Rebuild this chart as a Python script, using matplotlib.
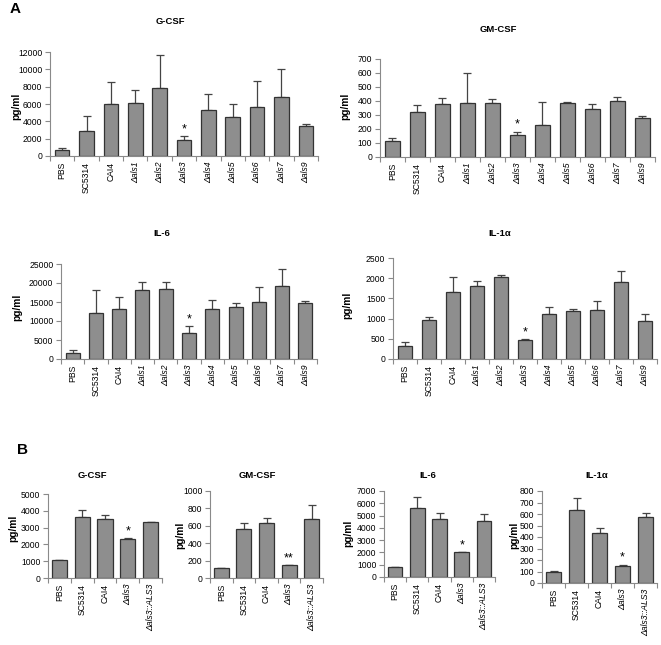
import numpy as np
import matplotlib
matplotlib.use('Agg')
import matplotlib.pyplot as plt

plt.rcParams['font.family'] = ['Liberation Sans', 'DejaVu Sans']

W, H = 661, 645

strains_a = ['PBS', 'SC5314', 'CAI4', 'Δals1', 'Δals2', 'Δals3',
             'Δals4', 'Δals5', 'Δals6', 'Δals7', 'Δals9']
strains_b = ['PBS', 'SC5314', 'CAI4', 'Δals3', 'Δals3::ALS3']

# panel A: means and upper error (top of error bar)
a_gcsf = [650, 2900, 5950, 6100, 7900, 1850, 5300, 4450, 5700, 6750, 3500]
a_gcsf_err = [950, 4600, 8550, 7650, 11600, 2300, 7200, 5950, 8650, 10050, 3650]
a_gmcsf = [115, 320, 377, 389, 389, 158, 230, 389, 340, 400, 276]
a_gmcsf_err = [138, 373, 425, 603, 413, 182, 396, 395, 377, 432, 296]
a_il6 = [1500, 12000, 13250, 18100, 18400, 6750, 13250, 13700, 15000, 19300, 14700]
a_il6_err = [2450, 18200, 16300, 20200, 20200, 8750, 15450, 14650, 18900, 23800, 15200]
a_il1 = [310, 975, 1650, 1800, 2020, 480, 1120, 1195, 1220, 1900, 950]
a_il1_err = [410, 1045, 2020, 1935, 2070, 500, 1295, 1235, 1445, 2170, 1125]

# panel B
b_gcsf = [1075, 3625, 3500, 2300, 3310]
b_gcsf_err = [1075, 4020, 3770, 2380, 3350]
b_gmcsf = [118, 560, 628, 148, 675]
b_gmcsf_err = [118, 628, 685, 152, 835]
b_il6 = [800, 5600, 4730, 2000, 4530]
b_il6_err = [800, 6520, 5200, 2000, 5150]
b_il1 = [98, 632, 432, 148, 572]
b_il1_err = [103, 738, 480, 160, 607]

BAR = '#8e8e8e'
SPINE = '#8a8a8a'


def px_axes(fig, x0, x1, y0, y1):
    return fig.add_axes([x0 / W, 1 - y1 / H, (x1 - x0) / W, (y1 - y0) / H])


def ftext(fig, x, y, s, **kw):
    fig.text(x / W, 1 - y / H, s, **kw)


def panel(fig, box, labels, vals, tops, ymax, ystep, title, tpos, ypos,
          stars=None, width=0.6):
    ax = px_axes(fig, *box)
    n = len(labels)
    x = np.arange(n)
    vals = np.array(vals, float)
    tops = np.array(tops, float)
    ax.bar(x, vals, width=width, color=BAR, edgecolor='#333333', linewidth=0.9, zorder=2)
    up = np.clip(tops - vals, 0, None)
    ax.errorbar(x, vals, yerr=[np.zeros(n), up], fmt='none', ecolor='#444444',
                elinewidth=0.9, capsize=3, capthick=0.9, zorder=1)
    ax.set_xlim(-0.5, n - 0.5)
    ax.set_ylim(0, ymax)
    ax.set_yticks(np.arange(0, ymax + 1, ystep))
    ax.set_xticks(np.arange(n + 1) - 0.5)
    ax.set_xticklabels([])
    ax.set_xticks(x, minor=True)
    ax.set_xticklabels(labels, minor=True, rotation=90, fontsize=6.2)
    for t, lab in zip(ax.get_xticklabels(minor=True), labels):
        if lab.startswith('Δ'):
            t.set_fontstyle('italic')
    ax.tick_params(axis='x', which='minor', length=0, pad=4)
    ax.tick_params(axis='x', which='major', length=3.5, color=SPINE, width=0.8)
    ax.tick_params(axis='y', length=3.5, color=SPINE, width=0.8, labelsize=6.2, pad=2)
    for s in ['top', 'right']:
        ax.spines[s].set_visible(False)
    for s in ['left', 'bottom']:
        ax.spines[s].set_color(SPINE)
        ax.spines[s].set_linewidth(0.8)
    ftext(fig, tpos[0], tpos[1], title, ha='center', va='center',
          fontsize=6.8, fontweight='bold')
    ftext(fig, ypos[0], ypos[1], 'pg/ml', ha='center', va='center',
          rotation=90, fontsize=7.3, fontweight='bold')
    if stars:
        for idx, s in stars:
            ax.annotate(s, (idx, tops[idx]), xytext=(0, 0.5), textcoords='offset points',
                        ha='center', va='bottom', fontsize=9)
    return ax


fig = plt.figure(figsize=(W / 100, H / 100), dpi=100)

ftext(fig, 15, 9, 'A', fontsize=11, fontweight='bold', ha='center', va='center')
ftext(fig, 22, 450, 'B', fontsize=11, fontweight='bold', ha='center', va='center')

panel(fig, (50, 318, 52, 156), strains_a, a_gcsf, a_gcsf_err, 12000, 2000,
      'G-CSF', (170, 22), (16, 106), stars=[(5, '*')])
panel(fig, (380, 655, 59, 157), strains_a, a_gmcsf, a_gmcsf_err, 700, 100,
      'GM-CSF', (498, 30), (345, 106), stars=[(5, '*')])
panel(fig, (61, 317, 264, 359), strains_a, a_il6, a_il6_err, 25000, 5000,
      'IL-6', (162, 233), (17, 307), stars=[(5, '*')])
panel(fig, (393, 657, 258, 359), strains_a, a_il1, a_il1_err, 2500, 500,
      'IL-1α', (500, 233), (347, 305), stars=[(5, '*')])

panel(fig, (48, 162, 494, 578), strains_b, b_gcsf, b_gcsf_err, 5000, 1000,
      'G-CSF', (92, 476), (13, 528), stars=[(3, '*')], width=0.66)
panel(fig, (210, 323, 491, 578), strains_b, b_gmcsf, b_gmcsf_err, 1000, 200,
      'GM-CSF', (257, 476), (180, 535), stars=[(3, '**')], width=0.66)
panel(fig, (384, 495, 491, 577), strains_b, b_il6, b_il6_err, 7000, 1000,
      'IL-6', (428, 475), (348, 533), stars=[(3, '*')], width=0.66)
panel(fig, (542, 657, 491, 583), strains_b, b_il1, b_il1_err, 800, 100,
      'IL-1α', (597, 475), (514, 535), stars=[(3, '*')], width=0.66)

fig.savefig('out.png', dpi=100)
